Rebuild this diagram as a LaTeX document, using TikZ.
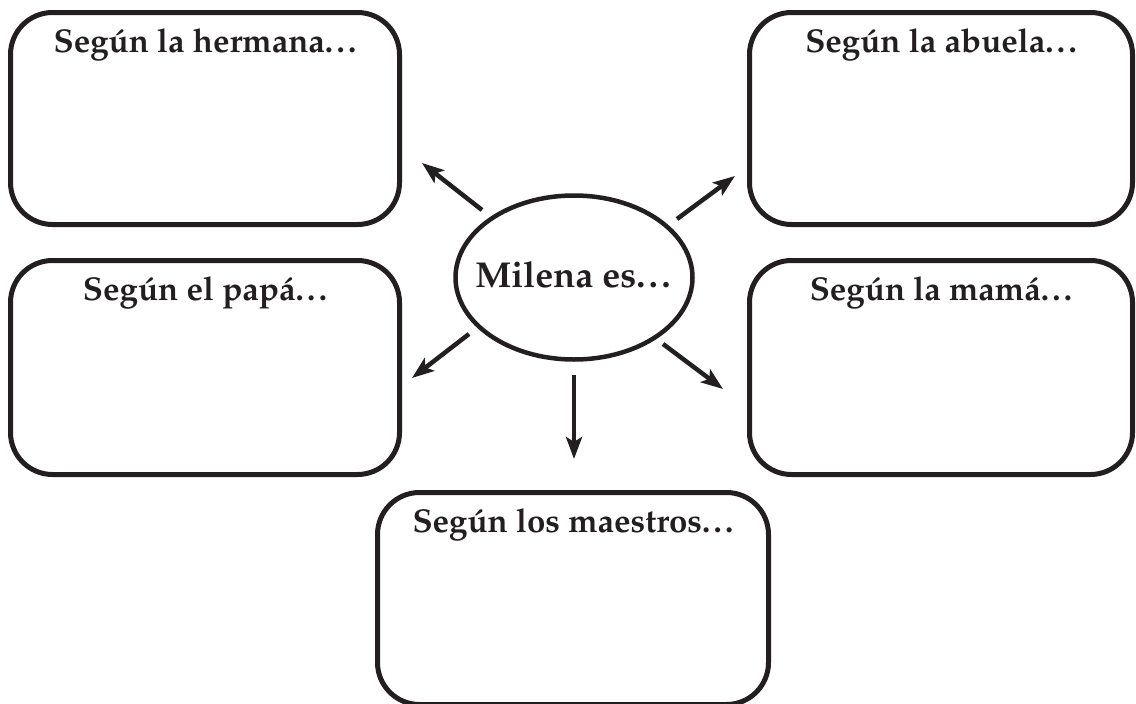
\documentclass[tikz,border=0pt]{standalone}
\usepackage[T1]{fontenc}
\usepackage{mathpazo}
\usetikzlibrary{arrows.meta,shapes.geometric}
\definecolor{ink}{RGB}{35,31,32}
\newcommand{\tdots}{.\kern0.1em.\kern0.1em.}
\tikzset{
  boxshape/.style={draw=ink, line width=5pt, rounded corners=42pt, rectangle, inner sep=0pt},
  titletext/.style={text=ink, font=\fontsize{33}{36}\selectfont\bfseries, anchor=base, inner sep=0pt},
  ovalshape/.style={draw=ink, line width=4.5pt, ellipse, inner sep=0pt},
  centretext/.style={text=ink, inner sep=0pt, font=\fontsize{36}{40}\selectfont\bfseries},
  arr/.style={draw=ink, line width=4.5pt, -{Stealth[length=22pt,width=16pt,inset=5pt]}}
}
\begin{document}
\begin{tikzpicture}[x=1pt,y=-1pt]
\useasboundingbox (0,0) rectangle (1136,704);
% boxes
\node[boxshape, minimum width=389pt, minimum height=212pt] (her) at (205,118.5) {};
\node[boxshape, minimum width=383pt, minimum height=212pt] (abu) at (941,118.5) {};
\node[boxshape, minimum width=389pt, minimum height=214pt] (pap) at (205,367.5) {};
\node[boxshape, minimum width=383pt, minimum height=214pt] (mam) at (941,367.5) {};
\node[boxshape, minimum width=391pt, minimum height=212pt] (mae) at (573,598.5) {};
% titles
\node[titletext] (ther) at ([yshift=-42.5pt]her.north) {Seg\'un la hermana\tdots};
\node[titletext] (tabu) at ([yshift=-42.5pt]abu.north) {Seg\'un la abuela\tdots};
\node[titletext] (tpap) at ([yshift=-42.5pt]pap.north) {Seg\'un el pap\'a\tdots};
\node[titletext] (tmam) at ([yshift=-42.5pt]mam.north) {Seg\'un la mam\'a\tdots};
\node[titletext] (tmae) at ([yshift=-42.5pt]mae.north) {Seg\'un los maestros\tdots};
% centre
\node[ovalshape, minimum width=237pt, minimum height=164pt] (mil) at (574,277.5) {};
\node[centretext, anchor=base] (tmil) at (573,287) {Milena es\tdots};
% arrow ends
\coordinate (s1) at (482,210); \coordinate (e1) at (422,163);
\coordinate (s2) at (677,219); \coordinate (e2) at (735,176);
\coordinate (s3) at (469,334); \coordinate (e3) at (412,378);
\coordinate (s4) at (663,344); \coordinate (e4) at (723,389);
\coordinate (s5) at (574,375); \coordinate (e5) at (574,459);
\draw[arr] (s1) -- (e1);
\draw[arr] (s2) -- (e2);
\draw[arr] (s3) -- (e3);
\draw[arr] (s4) -- (e4);
\draw[arr] (s5) -- (e5);
\end{tikzpicture}
\end{document}
